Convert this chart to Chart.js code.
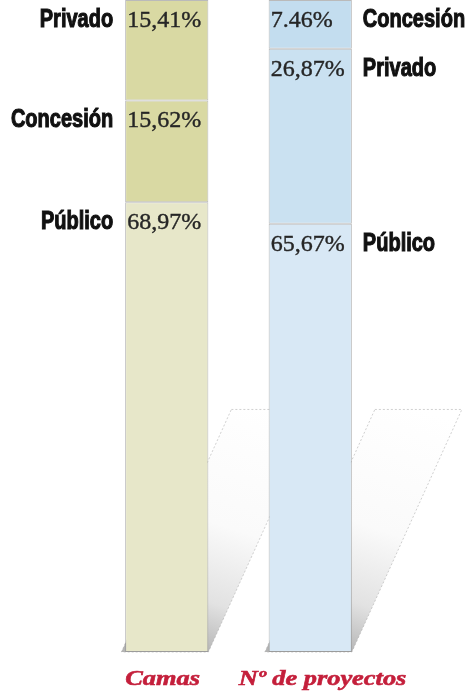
<!DOCTYPE html>
<html><head><meta charset="utf-8">
<script src="https://cdn.jsdelivr.net/npm/chart.js@4.4.1/dist/chart.umd.min.js"></script>
<style>html,body{margin:0;padding:0;background:#fff;overflow:hidden}canvas{display:block}</style>
</head><body>
<canvas id="c" width="472" height="692"></canvas>
<script>
// Bars (x categories)
const bars = ['Camas', 'Nº de proyectos'];
// Layers from top to bottom of each bar
const topNames = ['Privado', 'Concesión'];
const topValues = [15.41, 7.46];
const topText = ['15,41%', '7.46%'];
const midNames = ['Concesión', 'Privado'];
const midValues = [15.62, 26.87];
const midText = ['15,62%', '26,87%'];
const bottomNames = ['Público', 'Público'];
const bottomValues = [68.97, 65.67];
const bottomText = ['68,97%', '65,67%'];

const topColors = ['#d9d9a3', '#c3ddef'];
const midColors = ['#d9d9a3', '#cae1f1'];
const bottomColors = ['#e7e7c9', '#d8e8f5'];

const shadowPlugin = {
  id: 'shadow',
  beforeDatasetsDraw(chart) {
    const ctx = chart.ctx, y = chart.scales.y;
    const meta = chart.getDatasetMeta(0);
    const bottom = y.getPixelForValue(100);
    const topY = y.getPixelForValue(62.8);
    meta.data.forEach(el => {
      const right = el.x + el.width / 2;
      ctx.save();
      ctx.beginPath();
      ctx.moveTo(right + 23, topY);
      ctx.lineTo(right + 110, topY);
      ctx.lineTo(right, bottom);
      ctx.lineTo(right - 87, bottom);
      ctx.closePath();
      const g = ctx.createLinearGradient(right + 70, topY, right - 10, bottom);
      g.addColorStop(0, '#ffffff');
      g.addColorStop(0.5, '#fafafa');
      g.addColorStop(0.8, '#e2e2e2');
      g.addColorStop(1, '#b4b4b4');
      ctx.fillStyle = g;
      ctx.fill();
      ctx.setLineDash([2, 2]);
      ctx.strokeStyle = 'rgba(170,170,170,0.7)';
      ctx.lineWidth = 0.8;
      ctx.stroke();
      ctx.restore();
    });
  }
};

const labelPlugin = {
  id: 'labels',
  afterDatasetsDraw(chart) {
    const ctx = chart.ctx;
    chart.data.datasets.forEach((ds, i) => {
      const meta = chart.getDatasetMeta(i);
      meta.data.forEach((el, j) => {
        const top = Math.min(el.y, el.base);
        const left = el.x - el.width / 2, right = el.x + el.width / 2;
        const base = top + 27;
        ctx.save();
        ctx.font = '24px "Liberation Serif"';
        ctx.fillStyle = '#262626';
        ctx.strokeStyle = '#262626';
        ctx.lineWidth = 0.4;
        ctx.textAlign = 'left';
        ctx.textBaseline = 'alphabetic';
        ctx.fillText(ds.pct[j], left + 2, base);
        ctx.strokeText(ds.pct[j], left + 2, base);
        ctx.restore();
        ctx.save();
        ctx.font = 'bold 25px "Liberation Sans"';
        ctx.fillStyle = '#111';
        ctx.strokeStyle = '#111';
        ctx.lineWidth = 1.1;
        ctx.textBaseline = 'alphabetic';
        if (j === 0) {
          ctx.translate(left - 12, base);
          ctx.scale(0.8, 1);
          ctx.textAlign = 'right';
        } else {
          ctx.translate(right + 11, base);
          ctx.scale(0.8, 1);
          ctx.textAlign = 'left';
        }
        ctx.fillText(ds.names[j], 0, 0);
        ctx.strokeText(ds.names[j], 0, 0);
        ctx.restore();
      });
    });
    // category labels
    const meta0 = chart.getDatasetMeta(0);
    const yb = chart.chartArea.bottom + 33;
    const shifts = [0, -30];
    meta0.data.forEach((el, j) => {
      ctx.save();
      ctx.translate(el.x - el.width / 2 + shifts[j], yb);
      ctx.scale(1.2, 1);
      ctx.font = 'italic bold 22px "Liberation Serif"';
      ctx.fillStyle = '#c41f3b';
      ctx.strokeStyle = '#c41f3b';
      ctx.lineWidth = 0.6;
      ctx.textAlign = 'left';
      ctx.textBaseline = 'alphabetic';
      ctx.fillText(chart.data.labels[j], 0, 0);
      ctx.strokeText(chart.data.labels[j], 0, 0);
      ctx.restore();
    });
  }
};

const common = { borderColor: 'rgba(140,140,140,0.6)', borderWidth: 1, borderSkipped: false, barPercentage: 1, categoryPercentage: 0.58 };

new Chart(document.getElementById('c'), {
  type: 'bar',
  data: {
    labels: bars,
    datasets: [
      Object.assign({ data: topValues, backgroundColor: topColors, names: topNames, pct: topText }, common),
      Object.assign({ data: midValues, backgroundColor: midColors, names: midNames, pct: midText }, common),
      Object.assign({ data: bottomValues, backgroundColor: bottomColors, names: bottomNames, pct: bottomText }, common)
    ]
  },
  options: {
    responsive: false,
    animation: false,
    layout: { padding: { left: 95, right: 90, top: 0, bottom: 40 } },
    scales: {
      x: { display: false, stacked: true },
      y: { display: false, stacked: true, reverse: true, min: 0, max: 100 }
    },
    plugins: { legend: { display: false }, tooltip: { enabled: false } }
  },
  plugins: [shadowPlugin, labelPlugin]
});
</script>
</body></html>
